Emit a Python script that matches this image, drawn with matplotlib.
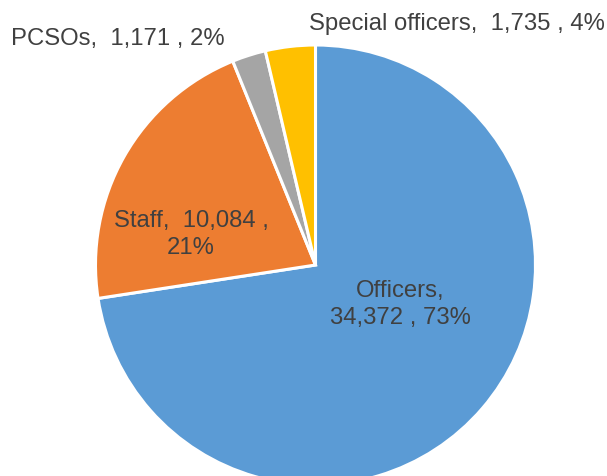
import matplotlib.pyplot as plt

categories = ['Officers', 'Staff', 'PCSOs', 'Special officers']
counts = [34372, 10084, 1171, 1735]
pct_labels = ['73%', '21%', '2%', '4%']
colours = ['#5B9BD5', '#ED7D31', '#A5A5A5', '#FFC000']

plt.rcParams['font.family'] = ['Liberation Sans', 'DejaVu Sans']
text_col = '#404040'

fig = plt.figure(figsize=(6.07, 4.76), dpi=100)
# pie centre ~ (315.5, 265) px, radius ~220 px
r_px = 220
cx, cy = 315.5, 265
ax = fig.add_axes([(cx - r_px) / 607, (476 - cy - r_px) / 476, 2 * r_px / 607, 2 * r_px / 476])
ax.pie(counts, colors=colours, startangle=90, counterclock=False, radius=1,
       wedgeprops=dict(edgecolor='white', linewidth=2.2))
ax.set_xlim(-1, 1)
ax.set_ylim(-1, 1)
ax.set_aspect('equal')
ax.axis('off')


def lab(i, sep1=',  ', sep2=' , '):
    return categories[i] + sep1 + f'{counts[i]:,}' + sep2 + pct_labels[i]


fs = 17.2
ax.text(0.384, -0.18, 'Officers,\n' + f'{counts[0]:,}' + ' , ' + pct_labels[0],
        ha='center', va='center', fontsize=fs, color=text_col, linespacing=1.32)
ax.text(-0.566, 0.14, 'Staff,  ' + f'{counts[1]:,}' + ' ,\n' + pct_labels[1],
        ha='center', va='center', fontsize=fs, color=text_col, linespacing=1.3)
ax.text(-0.898, 1.027, lab(2), ha='center', va='center', fontsize=fs,
        color=text_col, clip_on=False)
ax.text(0.643, 1.095, lab(3), ha='center', va='center', fontsize=fs,
        color=text_col, clip_on=False)

fig.savefig('out.png', dpi=100)
